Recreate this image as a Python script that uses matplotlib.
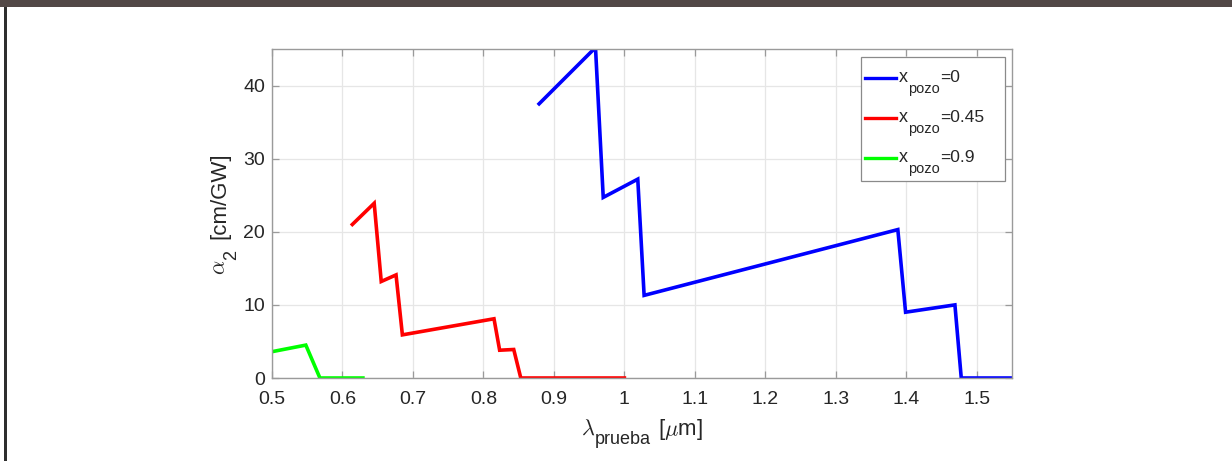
import matplotlib
matplotlib.use("Agg")
import matplotlib.pyplot as plt
from matplotlib.patches import Rectangle
from matplotlib.lines import Line2D

plt.rcParams["font.family"] = ["Liberation Sans", "DejaVu Sans"]
plt.rcParams["mathtext.fontset"] = "cm"

# Two-photon absorption spectra for three well compositions
lam_x0 = [0.879, 0.959, 0.970, 1.019, 1.028, 1.388, 1.399, 1.469, 1.478, 1.55]
alpha_x0 = [37.5, 45.2, 24.7, 27.2, 11.3, 20.3, 9.0, 10.0, 0.0, 0.0]

lam_x045 = [0.614, 0.645, 0.655, 0.676, 0.685, 0.815, 0.823, 0.843, 0.853, 1.0]
alpha_x045 = [21.0, 23.9, 13.2, 14.1, 5.9, 8.1, 3.8, 3.9, 0.0, 0.0]

lam_x09 = [0.5, 0.548, 0.568, 0.629]
alpha_x09 = [3.6, 4.5, 0.0, 0.0]

series_values = ["0", "0.45", "0.9"]
series_colors = ["#0000ff", "#ff0000", "#00ff00"]

x_ticks = [0.5, 0.6, 0.7, 0.8, 0.9, 1.0, 1.1, 1.2, 1.3, 1.4, 1.5]
x_tick_labels = ["0.5", "0.6", "0.7", "0.8", "0.9", "1", "1.1", "1.2", "1.3", "1.4", "1.5"]
y_ticks = [0, 10, 20, 30, 40]

TXT = "#262626"
W, H, DPI = 1232, 461, 100
fig = plt.figure(figsize=(W / DPI, H / DPI), dpi=DPI)
renderer = fig.canvas.get_renderer()


def fx(px):
    return px / W


def fy(py):
    return 1 - py / H


def piece_width(s, size):
    t = fig.text(0, 0, s, fontsize=size)
    w = t.get_window_extent(renderer).width
    t.remove()
    return w


def rich_text(pieces, x0, y0, rotated=False, center=False):
    """Draw (text, size, drop_px, gap_px) pieces one after another on a shared baseline."""
    widths = [piece_width(s, sz) for s, sz, _, _ in pieces]
    total = sum(widths) + sum(g for _, _, _, g in pieces)
    pos = -total / 2 if center else 0.0
    for (s, sz, drop, gap), w in zip(pieces, widths):
        pos += gap
        if rotated:
            x, y, rot = x0 + drop, y0 - pos, 90
        else:
            x, y, rot = x0 + pos, y0 + drop, 0
        fig.text(fx(x), fy(y), s, fontsize=sz, color=TXT, rotation=rot,
                 rotation_mode="anchor", ha="left", va="baseline")
        pos += w


# frame decorations
fig.patches.append(Rectangle((0, fy(7)), 1, 7 / H, transform=fig.transFigure,
                             facecolor="#524846", edgecolor="none", zorder=0))
fig.patches.append(Rectangle((fx(4), 0), 3 / W, fy(7), transform=fig.transFigure,
                             facecolor="#2e2e2e", edgecolor="none", zorder=0))

ax_l, ax_r, ax_t, ax_b = 272, 1012, 49, 378
ax = fig.add_axes([fx(ax_l), fy(ax_b), (ax_r - ax_l) / W, (ax_b - ax_t) / H])

for lam, alpha, col in zip([lam_x0, lam_x045, lam_x09],
                           [alpha_x0, alpha_x045, alpha_x09], series_colors):
    ax.plot(lam, alpha, color=col, lw=2.6, solid_joinstyle="miter")

ax.set_xlim(0.5, 1.55)
ax.set_ylim(0, 45)
ax.set_xticks(x_ticks)
ax.set_xticklabels(x_tick_labels)
ax.set_yticks(y_ticks)
ax.grid(True, color="#e6e6e6", lw=0.9)
ax.set_axisbelow(True)
for s in ax.spines.values():
    s.set_color("#9a9a9a")
    s.set_linewidth(1.0)
ax.tick_params(direction="in", top=True, right=True, length=5, width=0.9,
               colors="#9a9a9a", labelcolor=TXT, labelsize=14)
ax.tick_params(axis="x", pad=9.5)
ax.tick_params(axis="y", pad=5)

# axis labels with large, well-dropped subscripts
cx = (ax_l + ax_r) / 2
rich_text([(r"$\lambda$", 16, 0, 0), ("prueba", 13, 9, 0), (r"[$\mu$m]", 16, 0, 7)],
          cx, 435, center=True)
cy = (ax_t + ax_b) / 2
rich_text([(r"$\alpha$", 16, 0, 0), ("2", 13, 11, 0), ("[cm/GW]", 16, 0, 11)],
          225, cy, rotated=True, center=True)

# legend box
lg_l, lg_t, lg_r, lg_b = 861, 57, 1005, 181
fig.patches.append(Rectangle((fx(lg_l), fy(lg_b)), (lg_r - lg_l) / W, (lg_b - lg_t) / H,
                             transform=fig.transFigure, facecolor="white",
                             edgecolor="#8a8a8a", lw=0.9, zorder=5))
row_y = [78, 118, 158]
for ry, col, val in zip(row_y, series_colors, series_values):
    fig.lines.append(Line2D([fx(865), fx(896)], [fy(ry), fy(ry)], transform=fig.transFigure,
                            color=col, lw=2.4, zorder=6))
    rich_text([("x", 13, 0, 0), ("pozo", 10.5, 11, 0), ("=" + val, 12.5, 0, 0)], 899, ry + 4)
for t in fig.texts:
    t.set_zorder(7)

fig.savefig("out.png", dpi=DPI)
